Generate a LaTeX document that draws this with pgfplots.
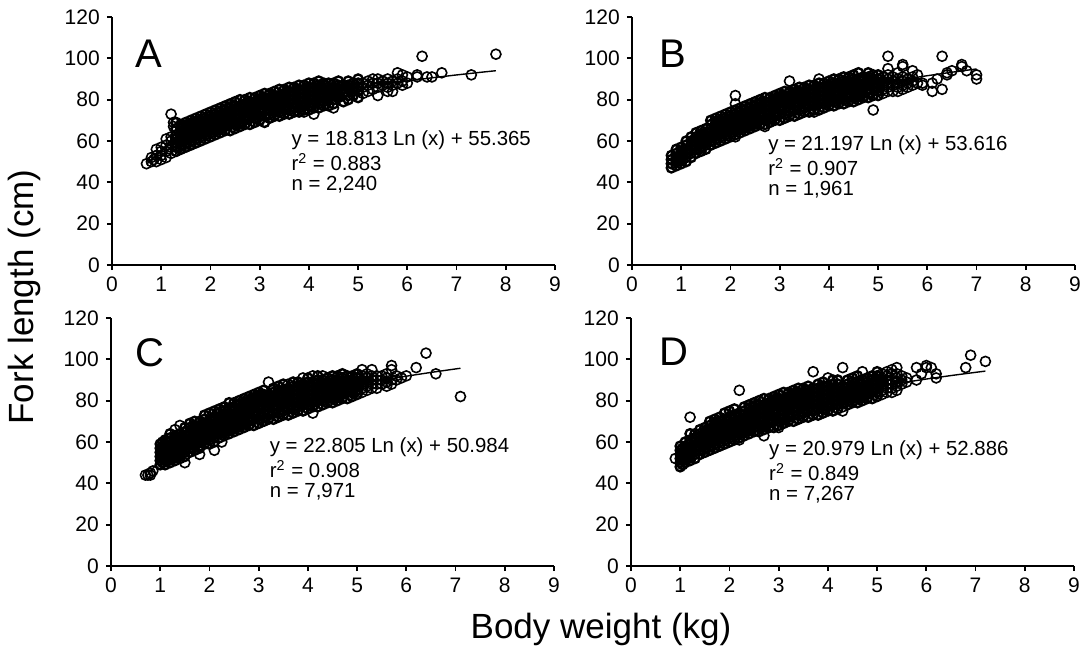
\documentclass[border=0pt]{standalone}
\usepackage{pgfplots}
\usepackage{pgfplotstable}
\pgfplotsset{compat=1.18}
\usepackage{fontspec}
\setmainfont{Liberation Sans}

\pgfplotstableread{
x a b c d e f g
1.3 55 57 59 61 63 66 69
1.4 56 58 60 62 64 66 68
1.5 57 59 61 63 65 67 69
1.6 58 60 62 64 66 68 70
1.7 59 61 63 65 67 69 71
1.8 60 62 64 66 68 70 72
1.9 61 63 65 67 69 71 73
2.0 62 64 66 68 70 72 74
2.1 63 65 67 69 71 73 75
2.2 64 66 68 70 72 74 76
2.3 65 67 69 71 73 75 77
2.4 65 68 70 72 74 76 78
2.5 66 68 71 73 75 77 79
2.6 67 69 71 73 75 77 80
2.7 68 70 72 74 76 78 80
2.8 68 71 73 75 77 79 81
2.9 69 71 73 75 77 79 81
3.0 70 72 74 76 78 80 82
3.1 69 72 75 77 79 81 83
3.2 71 73 75 77 79 81 83
3.3 72 74 76 78 80 82 84
3.4 72 74 76 78 80 82 85
3.5 73 75 77 79 81 83 85
3.6 73 75 78 80 82 84 86
3.7 74 76 78 80 82 84 86
3.8 74 76 79 81 83 85 87
3.9 75 77 79 81 83 85 87
4.0 75 77 80 82 84 86 88
4.1 76 78 80 82 84 86 88
4.2 76 78 81 83 85 87 89
4.3 77 79 81 83 85 87 88
4.4 77 80 82 84 86 88 nan
4.5 78 80 82 84 86 88 nan
4.6 nan 81 83 85 87 89 nan
4.7 79 nan 83 85 87 nan nan
4.8 80 82 nan 85 87 89 nan
4.9 nan 82 84 86 88 nan nan
5.0 81 nan 84 86 88 90 nan
}\tabA

\pgfplotstableread{
x a b c d e f g
0.8 47 49 51 53 nan nan nan
0.9 48 50 52 54 56 nan nan
1.0 49 51 53 55 57 nan nan
1.1 50 52 54 56 58 60 nan
1.2 52 54 56 58 60 62 nan
1.3 54 56 58 60 62 64 nan
1.4 55 57 59 61 63 65 nan
1.5 56 58 60 62 64 66 nan
1.6 58 60 62 64 66 68 70
1.7 59 61 63 65 67 69 71
1.8 60 62 64 66 68 70 72
1.9 61 63 65 67 69 71 73
2.0 62 64 66 68 70 72 74
2.1 63 65 67 69 71 73 75
2.2 64 66 68 70 72 74 76
2.3 65 67 69 71 73 75 77
2.4 66 68 70 72 74 76 78
2.5 67 69 71 73 75 77 79
2.6 68 70 72 74 76 78 80
2.7 68 70 73 75 77 79 81
2.8 69 71 73 75 77 79 81
2.9 70 72 74 76 78 80 82
3.0 70 73 75 77 79 81 83
3.1 71 73 76 78 80 82 84
3.2 72 74 76 78 80 82 84
3.3 72 75 77 79 81 83 85
3.4 73 75 78 80 82 84 86
3.5 74 76 78 80 82 84 86
3.6 74 77 79 81 83 85 87
3.7 75 77 79 81 83 85 87
3.8 75 78 80 82 84 86 88
3.9 76 78 80 82 84 86 88
4.0 77 79 81 83 85 87 89
4.1 77 79 82 84 86 88 90
4.2 78 80 82 84 86 88 90
4.3 78 80 83 85 87 89 91
4.4 79 81 83 85 87 89 91
4.5 79 81 84 86 88 90 92
4.6 80 82 84 86 88 90 93
4.7 81 83 85 87 89 91 nan
4.8 81 83 85 87 89 91 93
4.9 82 nan 86 88 90 92 nan
5.0 82 84 86 88 90 92 nan
}\tabB

\pgfplotstableread{
x a b c d e f g h
1.0 49 51 53 55 57 59 nan nan
1.05 50 52 54 56 58 60 nan nan
1.1 49 51 53 55 57 59 61 nan
1.2 50 52 54 56 58 60 62 64
1.3 51 53 55 57 59 61 63 nan
1.4 52 54 56 58 60 62 64 nan
1.5 53 55 57 59 61 63 65 67
1.6 55 57 59 61 63 65 67 69
1.7 56 58 60 62 64 66 68 70
1.8 57 58 60 62 64 66 68 70
1.9 59 61 63 65 67 69 71 73
2.0 59 61 63 65 67 69 71 74
2.1 60 62 64 66 68 70 72 75
2.2 62 64 66 68 70 72 74 76
2.3 63 65 67 69 71 73 75 77
2.4 64 66 68 70 72 74 76 79
2.5 65 67 69 71 73 75 77 79
2.6 66 68 70 72 74 76 78 80
2.7 67 69 71 73 75 77 79 81
2.8 68 70 72 74 76 78 80 82
2.9 68 71 73 75 77 79 81 83
3.0 69 71 74 76 78 80 82 84
3.1 70 72 74 77 79 81 83 85
3.2 71 73 75 77 79 81 83 nan
3.3 71 74 76 78 80 82 84 86
3.4 72 74 77 79 81 83 85 87
3.5 73 75 77 79 81 83 85 88
3.6 73 76 78 80 82 84 86 nan
3.7 74 76 79 81 83 85 87 89
3.8 75 77 79 81 83 85 87 89
3.9 75 78 80 82 84 86 88 nan
4.0 76 78 81 83 85 87 89 91
4.1 77 79 81 83 85 87 89 nan
4.2 77 80 82 84 86 88 90 92
4.3 78 80 82 84 86 88 90 nan
4.4 79 81 83 85 87 89 91 nan
4.5 79 81 84 86 88 90 92 nan
4.6 80 82 84 86 88 90 92 nan
4.7 81 83 85 87 89 91 93 nan
4.8 81 84 86 88 90 92 nan nan
4.9 82 84 86 88 90 92 nan nan
5.0 83 85 87 89 91 93 nan nan
}\tabC

\pgfplotstableread{
x a b c d e f g h
1.0 48 50 52 54 56 58 nan nan
1.05 49 51 53 55 57 nan nan nan
1.1 50 52 54 56 58 60 nan nan
1.2 51 53 55 57 59 61 64 nan
1.3 52 54 56 58 60 62 64 nan
1.4 54 56 58 60 62 64 66 nan
1.5 55 57 59 61 63 65 67 nan
1.6 56 58 60 62 64 66 68 70
1.7 57 59 61 63 65 67 69 71
1.8 58 60 62 64 66 68 70 72
1.9 59 61 63 65 67 69 71 74
2.0 60 62 64 66 68 70 72 75
2.1 61 63 65 67 69 71 73 76
2.2 62 64 66 68 70 72 74 nan
2.3 63 65 67 69 71 73 75 77
2.4 64 66 68 70 72 74 76 78
2.5 65 67 69 71 73 75 77 79
2.6 65 67 70 72 74 76 78 80
2.7 66 68 70 72 74 76 78 81
2.8 67 69 71 73 75 77 79 81
2.9 67 70 72 74 76 78 80 82
3.0 68 70 72 75 77 79 81 83
3.1 69 71 73 75 77 79 81 84
3.2 70 72 74 76 78 80 82 84
3.3 70 73 75 77 79 81 83 85
3.4 71 73 76 78 80 82 84 86
3.5 72 74 76 78 80 82 84 86
3.6 72 75 77 79 81 83 85 87
3.7 73 75 78 80 82 84 86 nan
3.8 73 76 78 80 82 84 86 88
3.9 74 76 79 81 83 85 87 89
4.0 75 77 79 81 83 85 87 nan
4.1 75 78 80 82 84 86 88 90
4.2 76 78 80 82 84 86 88 90
4.3 nan 79 81 83 85 87 nan nan
4.4 78 80 82 84 86 88 90 nan
4.5 79 81 83 85 87 89 91 nan
4.6 79 81 83 85 87 89 92 nan
4.7 80 82 84 86 88 90 nan nan
4.8 81 83 85 87 89 91 nan nan
4.9 81 84 86 88 90 92 nan nan
5.0 82 84 86 88 90 92 94 nan
}\tabD

\pgfplotsset{
  panel/.style={
    scale only axis, width=221.5pt, height=124pt,
    anchor=south west,
    xmin=0, xmax=9, ymin=0, ymax=120,
    xtick={0,1,...,9}, ytick={0,20,...,120},
    axis lines=left, axis line style={-, line width=0.9pt, black},
    tick align=outside, major tick length=2.6pt,
    tick style={line width=0.9pt, black},
    tick label style={font=\fontsize{10.5}{12}\selectfont, black},
    /pgf/number format/assume math mode=true,
    clip=false,
  },
  pts/.style={only marks, mark=o, mark size=2.5pt, black,
    mark options={line width=0.8pt}},
  dense/.style={only marks, mark=o, mark size=2.3pt, black,
    mark options={line width=1.2pt}},
  fit/.style={black, line width=0.7pt, no marks},
}
\newcommand{\eqf}{\fontsize{10.2}{12}\selectfont}
\newcommand{\letf}{\fontsize{20}{23}\selectfont}

\begin{document}
\begin{tikzpicture}
\useasboundingbox (0,0) rectangle (543pt,325pt);

% ---------------- A
\begin{axis}[panel, at={(56pt,192.5pt)}]
\pgfplotsinvokeforeach{a,b,c,d,e,f,g}{\addplot[dense] table[x=x,y=#1]{\tabA};}
\addplot[pts] coordinates {(0.7,49)(0.8,50)(0.8,52)(0.85,51)(0.9,50)(0.9,53)(0.9,56)(1.0,51)(1.0,53)(1.0,55)(1.0,57)(1.1,52)(1.1,55)(1.1,58)(1.1,61)(1.2,54)(1.2,57)(1.2,60)(1.2,62)(1.2,73)(1.25,67)(1.25,69)(1.3,55)(3.9,74)(4.1,73)(4.5,76)(5.1,83)(5.1,86)(5.1,88)(5.2,84)(5.2,87)(5.2,89)(5.3,85)(5.3,88)(5.3,90)(5.4,82)(5.4,86)(5.4,88)(5.4,90)(5.5,87)(5.5,89)(5.6,84)(5.6,86)(5.6,88)(5.6,90)(5.7,84)(5.7,87)(5.7,89)(5.8,88)(5.8,90)(5.8,93)(5.9,87)(5.9,89)(5.9,92)(6.0,88)(6.0,91)(6.2,91)(6.2,92)(6.3,101)(6.4,91)(6.5,91)(6.7,93)(7.3,92)(7.8,102)};
\addplot[fit] coordinates {(0.7,48.65)(0.8,51.17)(0.9,53.38)(1.0,55.37)(1.2,58.80)(1.5,62.99)(2.0,68.41)(2.5,72.60)(3.0,76.03)(3.5,78.93)(4.0,81.45)(4.5,83.66)(5.0,85.64)(5.5,87.44)(6.0,89.07)(6.5,90.58)(7.0,91.97)(7.5,93.27)(7.8,94.01)};
\node[anchor=west, font=\letf, inner sep=0pt] at (axis cs:0.46,102) {A};
\node[anchor=west, font=\eqf, inner sep=0pt] at (axis cs:3.64,60.5) {y = 18.813 Ln (x) + 55.365};
\node[anchor=west, font=\eqf, inner sep=0pt] at (axis cs:3.64,49.7) {r\textsuperscript{2} = 0.883};
\node[anchor=west, font=\eqf, inner sep=0pt] at (axis cs:3.64,38.9) {n = 2,240};
\end{axis}

% ---------------- B
\begin{axis}[panel, at={(316pt,192.5pt)}]
\pgfplotsinvokeforeach{a,b,c,d,e,f,g}{\addplot[dense] table[x=x,y=#1]{\tabB};}
\addplot[pts] coordinates {(2.1,62)(2.1,78)(2.1,82)(2.7,67)(3.7,74)(3.2,89)(3.8,90)(4.9,75)(5.1,83)(5.1,85)(5.1,87)(5.1,89)(5.1,91)(5.2,84)(5.2,86)(5.2,88)(5.2,90)(5.2,92)(5.2,95)(5.2,101)(5.3,84)(5.3,87)(5.3,89)(5.3,91)(5.4,84)(5.4,86)(5.4,88)(5.4,90)(5.4,93)(5.5,85)(5.5,87)(5.5,89)(5.5,91)(5.5,96)(5.5,97)(5.6,86)(5.6,88)(5.6,90)(5.7,87)(5.7,89)(5.7,91)(5.7,94)(5.8,88)(5.8,92)(5.9,87)(5.9,88)(6.1,84)(6.1,88)(6.2,90)(6.3,85)(6.3,101)(6.4,92)(6.4,93)(6.5,94)(6.7,96)(6.7,97)(6.8,94)(7.0,90)(7.0,92)};
\addplot[fit] coordinates {(0.8,48.89)(0.9,51.38)(1.0,53.62)(1.2,57.48)(1.5,62.21)(2.0,68.31)(2.5,73.04)(3.0,76.90)(3.5,80.17)(4.0,83.00)(4.5,85.50)(5.0,87.73)(5.5,89.75)(6.0,91.60)(6.5,93.29)(7.0,94.86)};
\node[anchor=west, font=\letf, inner sep=0pt] at (axis cs:0.55,102) {B};
\node[anchor=west, font=\eqf, inner sep=0pt] at (axis cs:2.76,58) {y = 21.197 Ln (x) + 53.616};
\node[anchor=west, font=\eqf, inner sep=0pt] at (axis cs:2.76,47.2) {r\textsuperscript{2} = 0.907};
\node[anchor=west, font=\eqf, inner sep=0pt] at (axis cs:2.76,36.4) {n = 1,961};
\end{axis}

% ---------------- C
\begin{axis}[panel, at={(55.5pt,42pt)}]
\pgfplotsinvokeforeach{a,b,c,d,e,f,g,h}{\addplot[dense] table[x=x,y=#1]{\tabC};}
\addplot[pts] coordinates {(0.7,44)(0.75,44)(0.8,44)(0.8,45)(0.85,46)(1.5,50)(1.8,54)(2.1,56)(2.25,60)(1.3,66)(1.4,68)(3.2,89)(3.6,88)(3.9,91)(4.1,92)(4.1,74)(4.3,92)(5.1,84)(5.1,86)(5.1,88)(5.1,90)(5.1,92)(5.1,95)(5.2,85)(5.2,87)(5.2,89)(5.2,91)(5.2,93)(5.3,86)(5.3,88)(5.3,90)(5.3,92)(5.3,95)(5.4,86)(5.4,88)(5.4,90)(5.4,92)(5.5,88)(5.5,90)(5.5,92)(5.6,87)(5.6,89)(5.6,91)(5.6,93)(5.7,88)(5.7,90)(5.7,95)(5.7,97)(5.8,90)(5.8,92)(5.9,91)(6.0,92)(6.2,96)(6.4,103)(6.6,93)(7.1,82)};
\addplot[fit] coordinates {(0.7,42.85)(0.8,45.90)(0.9,48.58)(1.0,50.98)(1.2,55.14)(1.5,60.23)(2.0,66.79)(2.5,71.88)(3.0,76.04)(3.5,79.55)(4.0,82.60)(4.5,85.29)(5.0,87.69)(5.5,89.86)(6.0,91.85)(6.5,93.67)(7.0,95.36)(7.1,95.68)};
\node[anchor=west, font=\letf, inner sep=0pt] at (axis cs:0.49,103) {C};
\node[anchor=west, font=\eqf, inner sep=0pt] at (axis cs:3.22,57.6) {y = 22.805 Ln (x) + 50.984};
\node[anchor=west, font=\eqf, inner sep=0pt] at (axis cs:3.22,46.8) {r\textsuperscript{2} = 0.908};
\node[anchor=west, font=\eqf, inner sep=0pt] at (axis cs:3.22,36) {n = 7,971};
\end{axis}

% ---------------- D
\begin{axis}[panel, at={(315.5pt,42pt)}]
\pgfplotsinvokeforeach{a,b,c,d,e,f,g,h}{\addplot[dense] table[x=x,y=#1]{\tabD};}
\addplot[pts] coordinates {(0.9,52)(1.2,72)(2.2,85)(2.2,61)(2.7,63)(2.8,67)(3.0,67)(3.7,94)(4.0,91)(4.3,96)(4.3,75)(4.3,77)(4.7,94)(5.1,83)(5.1,85)(5.1,87)(5.1,89)(5.1,91)(5.1,93)(5.2,84)(5.2,86)(5.2,88)(5.2,90)(5.2,92)(5.2,94)(5.3,84)(5.3,86)(5.3,88)(5.3,90)(5.3,93)(5.3,95)(5.4,85)(5.4,87)(5.4,89)(5.4,91)(5.4,93)(5.4,96)(5.5,88)(5.5,90)(5.5,92)(5.6,89)(5.6,91)(5.8,90)(5.8,96)(5.9,93)(6.0,96)(6.0,97)(6.1,96)(6.2,91)(6.2,93)(6.8,96)(6.9,102)(7.2,99)};
\addplot[fit] coordinates {(0.9,50.68)(1.0,52.89)(1.2,56.71)(1.5,61.39)(2.0,67.43)(2.5,72.11)(3.0,75.93)(3.5,79.17)(4.0,81.97)(4.5,84.44)(5.0,86.65)(5.5,88.65)(6.0,90.48)(6.5,92.15)(7.0,93.71)(7.2,94.30)};
\node[anchor=west, font=\letf, inner sep=0pt] at (axis cs:0.57,103.5) {D};
\node[anchor=west, font=\eqf, inner sep=0pt] at (axis cs:2.8,56.2) {y = 20.979 Ln (x) + 52.886};
\node[anchor=west, font=\eqf, inner sep=0pt] at (axis cs:2.8,45.4) {r\textsuperscript{2} = 0.849};
\node[anchor=west, font=\eqf, inner sep=0pt] at (axis cs:2.8,34.6) {n = 7,267};
\end{axis}

\node[rotate=90, font=\fontsize{17.5}{20}\selectfont, inner sep=0pt] at (12pt,176.5pt) {Fork length (cm)};
\node[anchor=base, font=\fontsize{17.5}{20}\selectfont, inner sep=0pt] at (300.5pt,6pt) {Body weight (kg)};
\end{tikzpicture}
\end{document}
